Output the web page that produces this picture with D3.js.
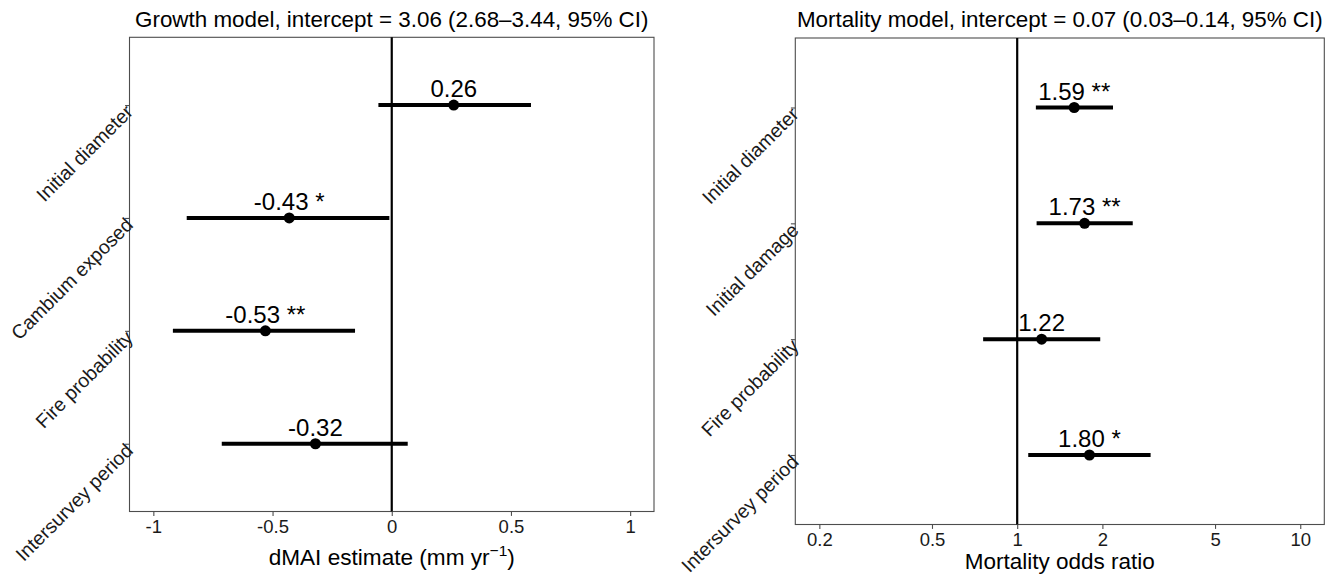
<!DOCTYPE html>
<html>
<head>
<meta charset="utf-8">
<script src="https://cdn.jsdelivr.net/npm/d3@7"></script>
<style>
  html, body { margin: 0; padding: 0; background: #fff; }
  svg { display: block; font-family: "Liberation Sans", Arial, sans-serif; }
</style>
</head>
<body>
<svg id="chart" width="1339" height="574"></svg>
<script>
// Growth model coefficients (dMAI, mm/yr) with 95% CI
const growthTerms = ["Initial diameter", "Cambium exposed", "Fire probability", "Intersurvey period"];
const growthEst   = [0.26, -0.43, -0.53, -0.32];
const growthLow   = [-0.056, -0.86, -0.918, -0.713];
const growthHigh  = [0.584, -0.01, -0.154, 0.067];
const growthSig   = ["", "*", "**", ""];
const growthTicks = [-1, -0.5, 0, 0.5, 1];

// Mortality model odds ratios with 95% CI
const mortTerms = ["Initial diameter", "Initial damage", "Fire probability", "Intersurvey period"];
const mortEst   = [1.59, 1.73, 1.22, 1.80];
const mortLow   = [1.164, 1.171, 0.758, 1.094];
const mortHigh  = [2.18, 2.56, 1.965, 2.96];
const mortSig   = ["**", "**", "", "*"];
const mortTicks = [0.2, 0.5, 1, 2, 5, 10];

const FONT = "Liberation Sans, Arial, sans-serif";
const svg = d3.select("#chart");

function panel(opts) {
  const { left, right, top, bottom, x, terms, est, low, high, sig, ticks, ref, tickFmt, title } = opts;
  const g = svg.append("g");

  const y = d3.scalePoint().domain(terms).range([top, bottom]).padding(0.6);

  // panel border
  g.append("rect")
    .attr("x", left).attr("y", top)
    .attr("width", right - left).attr("height", bottom - top)
    .attr("fill", "none").attr("stroke", "#4d4d4d").attr("stroke-width", 1.1);

  // reference line (no effect)
  g.append("line")
    .attr("x1", x(ref)).attr("x2", x(ref))
    .attr("y1", top).attr("y2", bottom)
    .attr("stroke", "#000").attr("stroke-width", 2.2);

  // x axis
  const xa = g.append("g")
    .attr("transform", `translate(0,${bottom})`)
    .call(d3.axisBottom(x).tickValues(ticks).tickSize(4.4).tickPadding(4).tickFormat(tickFmt));
  xa.select(".domain").remove();
  xa.selectAll(".tick line").attr("stroke", "#4d4d4d").attr("stroke-width", 1.1);
  xa.selectAll(".tick text").attr("fill", "#1a1a1a").attr("font-size", 18.5).attr("font-family", FONT);

  // y axis, labels slanted at 45 degrees
  const ya = g.append("g")
    .attr("transform", `translate(${left},0)`)
    .call(d3.axisLeft(y).tickSize(4.4).tickPadding(0));
  ya.select(".domain").remove();
  ya.selectAll(".tick line").attr("stroke", "#4d4d4d").attr("stroke-width", 1.1);
  ya.selectAll(".tick text")
    .attr("fill", "#1a1a1a").attr("font-size", 19.5)
    .attr("font-family", FONT)
    .attr("text-anchor", "end")
    .attr("x", null)
    .attr("transform", "translate(-5,-2) rotate(-45)")
    .attr("dy", "0.7em");

  const rows = terms.map((t, i) => ({ t, est: est[i], lo: low[i], hi: high[i], s: sig[i] }));

  // confidence intervals
  g.selectAll(".ci").data(rows).join("line")
    .attr("x1", d => x(d.lo)).attr("x2", d => x(d.hi))
    .attr("y1", d => y(d.t)).attr("y2", d => y(d.t))
    .attr("stroke", "#000").attr("stroke-width", 4);

  // point estimates
  g.selectAll(".pt").data(rows).join("circle")
    .attr("cx", d => x(d.est)).attr("cy", d => y(d.t)).attr("r", 5.5)
    .attr("fill", "#000");

  // value labels
  g.selectAll(".lab").data(rows).join("text")
    .attr("x", d => x(d.est)).attr("y", d => y(d.t) - 8)
    .attr("text-anchor", "middle").attr("font-size", 24).attr("fill", "#000")
    .text(d => d.est.toFixed(2) + (d.s ? " " + d.s : ""));

  // panel title
  g.append("text")
    .attr("x", (left + right) / 2).attr("y", 27)
    .attr("text-anchor", "middle").attr("font-size", 22.4).attr("fill", "#000")
    .text(title);

  return g;
}

// Left panel: growth
const xGrowth = d3.scaleLinear().domain([-1.1, 1.1]).range([129.5, 654]);
const gL = panel({
  left: 129.5, right: 654, top: 37.3, bottom: 511.5,
  x: xGrowth, terms: growthTerms, est: growthEst, low: growthLow, high: growthHigh, sig: growthSig,
  ticks: growthTicks, ref: 0, tickFmt: d => String(d),
  title: "Growth model, intercept = 3.06 (2.68\u20133.44, 95% CI)"
});
const xt = gL.append("text")
  .attr("x", (129.5 + 654) / 2).attr("y", 565)
  .attr("text-anchor", "middle").attr("font-size", 22.6).attr("fill", "#000");
xt.append("tspan").text("dMAI estimate (mm yr");
xt.append("tspan").attr("dy", -9).attr("font-size", 15.5).text("\u22121");
xt.append("tspan").attr("dy", 9).text(")");

// Right panel: mortality (log scale, limits 0.2–10 expanded 5%)
const lg0 = Math.log10(0.2), lg1 = Math.log10(10), ex = 0.05 * (lg1 - lg0);
const xMort = d3.scaleLog().domain([Math.pow(10, lg0 - ex), Math.pow(10, lg1 + ex)]).range([795.3, 1324.3]);
const gR = panel({
  left: 795.3, right: 1324.3, top: 38, bottom: 524.5,
  x: xMort, terms: mortTerms, est: mortEst, low: mortLow, high: mortHigh, sig: mortSig,
  ticks: mortTicks, ref: 1, tickFmt: d => String(d),
  title: "Mortality model, intercept = 0.07 (0.03\u20130.14, 95% CI)"
});
gR.append("text")
  .attr("x", (795.3 + 1324.3) / 2).attr("y", 568.5)
  .attr("text-anchor", "middle").attr("font-size", 22.5).attr("fill", "#000")
  .text("Mortality odds ratio");
</script>
</body>
</html>
